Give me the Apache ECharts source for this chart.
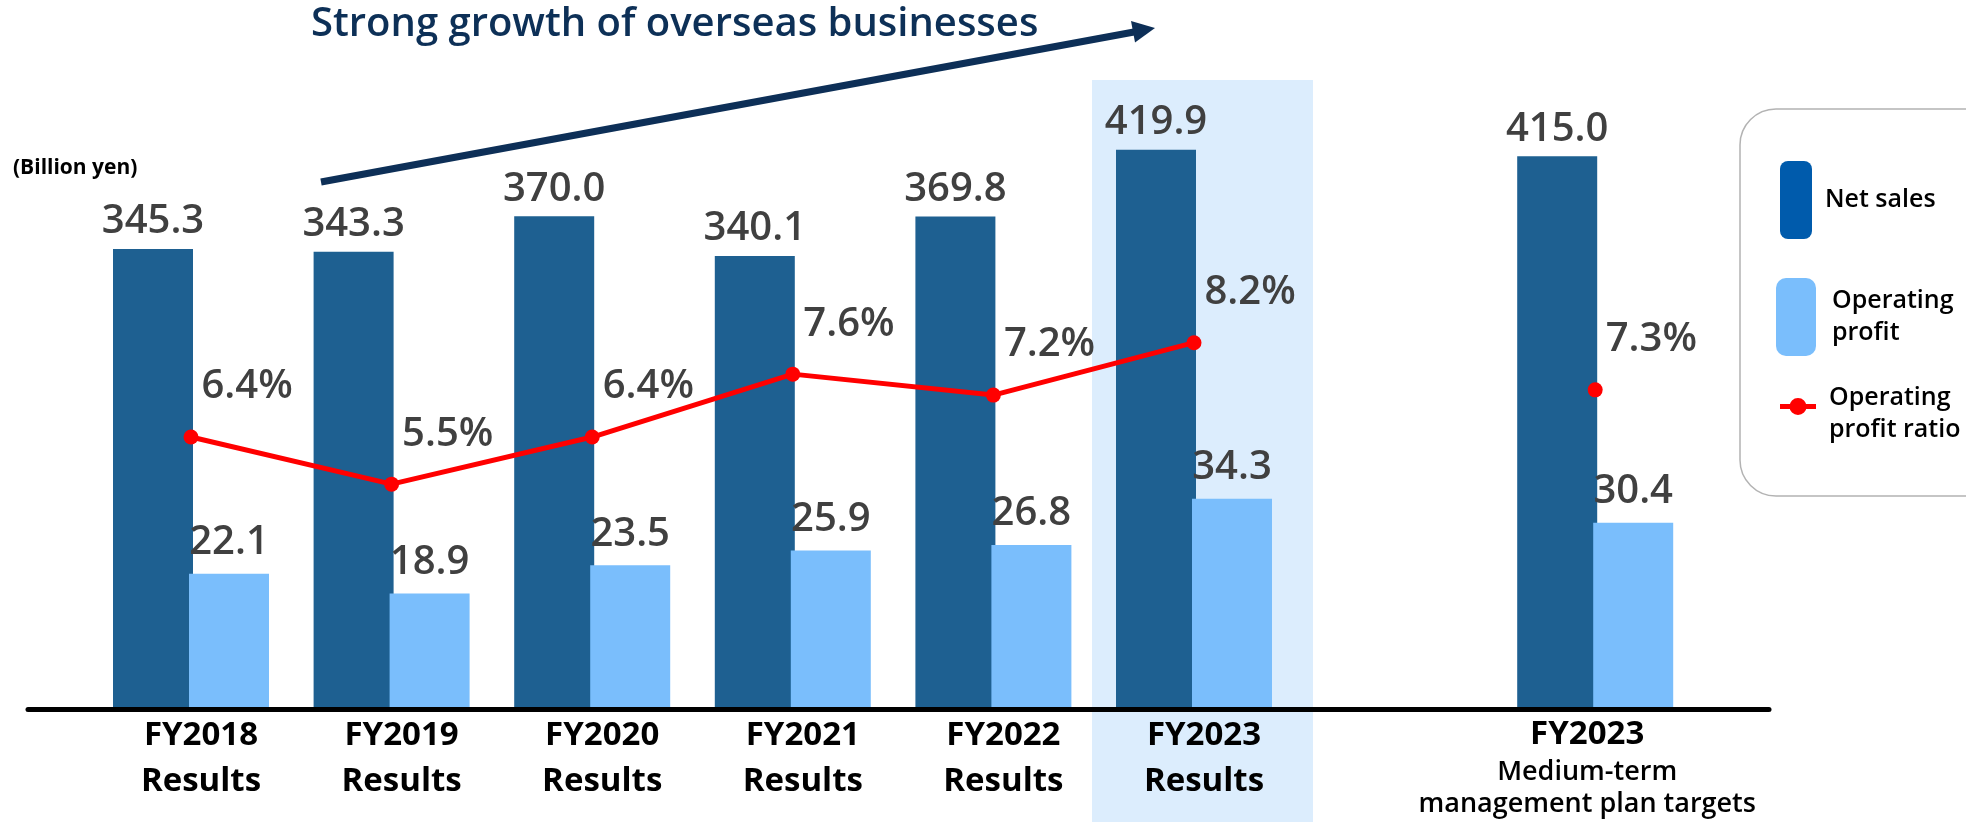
<!DOCTYPE html>
<html>
<head>
<meta charset="utf-8">
<script src="https://cdn.jsdelivr.net/npm/echarts@6/dist/echarts.min.js"></script>
<style>
html, body { margin: 0; padding: 0; background: #fff; }
#chart { width: 1966px; height: 822px; }
</style>
</head>
<body>
<div id="chart"></div>
<script>
// 横軸（index 6 は空きスロット）
var categories = [
	'FY2018\nResults',
	'FY2019\nResults',
	'FY2020\nResults',
	'FY2021\nResults',
	'FY2022\nResults',
	'FY2023\nResults',
	'',
	'FY2023\nMedium-term\nmanagement plan targets'
];
var netSales = [345.3, 343.3, 370.0, 340.1, 369.8, 419.9, null, 415.0];
var opProfit = [22.1, 18.9, 23.5, 25.9, 26.8, 34.3, null, 30.4];
var opRatio = [6.4, 5.5, 6.4, 7.6, 7.2, 8.2, null, 7.3];

var legendLabels = {
	'Net sales': 'Net sales',
	'Operating profit': 'Operating\nprofit',
	'Operating profit ratio': 'Operating\nprofit ratio'
};

var FONT = '"Open Sans", "Noto Sans", sans-serif';
var valueLabel = {
	show: true,
	fontFamily: FONT,
	fontSize: 40,
	fontWeight: 600,
	color: '#404040'
};
var legendText = { fontFamily: FONT, fontSize: 25, fontWeight: 600, color: '#000' };
// 線＋丸のアイコン（上寄せ、最後の点は枠の高さ合わせ）
var ratioIcon = 'path://M0 6H10V11H0Z M26 6H36V11H26Z M9.5 8.5A8.5 8.5 0 1 1 26.5 8.5A8.5 8.5 0 1 1 9.5 8.5Z M0 32L0.01 32Z';

var chart = echarts.init(document.getElementById('chart'));

var option = {
	backgroundColor: '#fff',
	animation: false,
	title: {
		text: 'Strong growth of overseas businesses',
		left: 306,
		top: 0,
		textStyle: { fontFamily: FONT, fontSize: 40, fontWeight: 600, color: '#0d3057' }
	},
	grid: [
		{ left: 90.7, right: 270.5, top: 109.5, bottom: 112.5 },
		{ left: 28, right: 197, top: 109.5, bottom: 112.5 }
	],
	legend: [
		{
			data: [{ name: 'Net sales', itemStyle: { color: '#005bac' } }],
			left: 1780, top: 161, padding: 0,
			itemWidth: 32, itemHeight: 78,
			selectedMode: false,
			formatter: function (name) { return legendLabels[name]; },
			textStyle: Object.assign({}, legendText, { padding: [0, 0, 0, 8] })
		},
		{
			data: ['Operating profit'],
			left: 1776, top: 278, padding: 0,
			itemWidth: 40, itemHeight: 78,
			selectedMode: false,
			formatter: function (name) { return legendLabels[name]; },
			textStyle: Object.assign({}, legendText, { lineHeight: 32, padding: [0, 0, 0, 11] })
		},
		{
			data: [{ name: 'Operating profit ratio', icon: ratioIcon, itemStyle: { color: '#ff0000' } }],
			left: 1780, top: 382, padding: 0,
			itemWidth: 36, itemHeight: 32,
			selectedMode: false,
			formatter: function (name) { return legendLabels[name]; },
			textStyle: Object.assign({}, legendText, { lineHeight: 32, padding: [0, 0, 0, 8] })
		}
	],
	xAxis: [
		{
			type: 'category',
			gridIndex: 0,
			data: categories,
			axisLine: { show: false },
			axisTick: { show: false },
			axisLabel: {
				interval: 0,
				margin: 3,
				formatter: function (value, index) {
					if (!value) return '';
					var lines = value.split('\n');
					if (index === 7) {
						return lines.map(function (l, i) {
							return i === 0 ? '{t|' + l + '}' : '{c|' + l + '}';
						}).join('\n');
					}
					return lines.map(function (l) { return '{a|' + l + '}'; }).join('\n');
				},
				rich: {
					a: { fontFamily: FONT, fontSize: 33, fontWeight: 700, color: '#000', lineHeight: 46, padding: [0, 0, 0, 20] },
					t: { fontFamily: FONT, fontSize: 33, fontWeight: 700, color: '#000', lineHeight: 44, padding: [0, 16, 0, 0] },
					c: { fontFamily: FONT, fontSize: 27, fontWeight: 600, color: '#000', lineHeight: 32, padding: [0, 16, 0, 0] }
				}
			}
		},
		{
			type: 'value',
			gridIndex: 1,
			min: 0, max: 1,
			axisLine: { show: true, lineStyle: { color: '#000', width: 5 } },
			axisTick: { show: false },
			axisLabel: { show: false },
			splitLine: { show: false },
			z: 10
		}
	],
	yAxis: [
		{ type: 'value', gridIndex: 0, min: 0, max: 450, show: false },
		{ type: 'value', gridIndex: 0, min: 0, max: 97.7, show: false },
		{ type: 'value', gridIndex: 0, min: 1.2, max: 12.65, show: false },
		{ type: 'value', gridIndex: 1, min: 0, max: 1, show: false }
	],
	series: [
		{
			name: 'Net sales',
			type: 'bar',
			yAxisIndex: 0,
			data: netSales,
			barWidth: 80,
			barGap: '-5%',
			itemStyle: { color: '#1e6091' },
			label: Object.assign({}, valueLabel, {
				position: 'top',
				distance: 7,
				formatter: function (p) { return p.value.toFixed(1); }
			})
		},
		{
			name: 'Operating profit',
			type: 'bar',
			yAxisIndex: 1,
			data: opProfit,
			barWidth: 80,
			barGap: '-5%',
			itemStyle: { color: '#7abefc' },
			label: Object.assign({}, valueLabel, {
				position: 'top',
				distance: 11,
				formatter: function (p) { return p.value.toFixed(1); }
			})
		},
		{
			name: 'Operating profit ratio',
			type: 'line',
			yAxisIndex: 2,
			data: opRatio,
			connectNulls: false,
			symbol: 'circle',
			symbolSize: 15,
			lineStyle: { color: '#ff0000', width: 5 },
			itemStyle: { color: '#ff0000' },
			z: 5,
			label: Object.assign({}, valueLabel, {
				position: 'right',
				distance: 3,
				offset: [0, -50],
				formatter: function (p) { return p.value.toFixed(1) + '%'; }
			})
		}
	],
	graphic: [
		// FY2023実績のハイライト
		{
			type: 'rect',
			z: -10,
			shape: { x: 1092, y: 80, width: 221, height: 742 },
			style: { fill: '#dcedfd' }
		},
		// 凡例の枠
		{
			type: 'rect',
			z: -5,
			shape: { x: 1740, y: 109, width: 260, height: 387, r: 36 },
			style: { fill: '#fff', stroke: '#b3b3b3', lineWidth: 1.5 }
		},
		{
			type: 'text',
			left: 13,
			top: 158,
			style: { text: '(Billion yen)', fontFamily: FONT, fontSize: 21, fontWeight: 700, fill: '#000' }
		},
		// 矢印
		{
			type: 'line',
			shape: { x1: 321, y1: 182, x2: 1134, y2: 32 },
			style: { stroke: '#0d2f57', lineWidth: 7 }
		},
		{
			type: 'polygon',
			shape: { points: [[1155, 28], [1135, 42.5], [1131, 21]] },
			style: { fill: '#0d2f57' }
		}
	]
};

chart.setOption(option);
</script>
</body>
</html>
